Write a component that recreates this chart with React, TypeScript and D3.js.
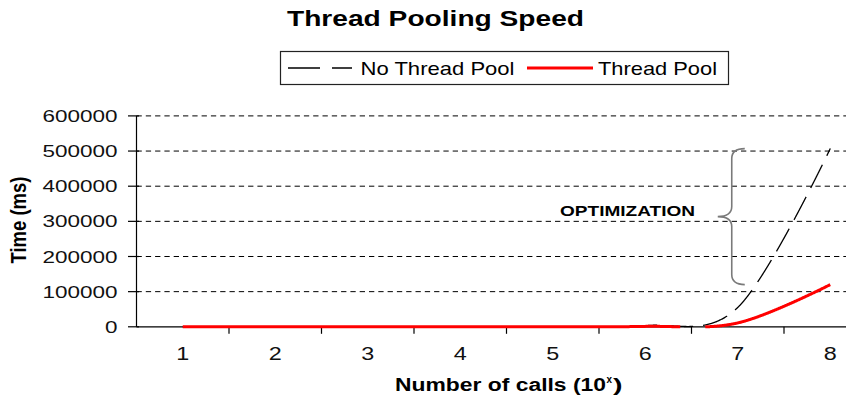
import React, { useLayoutEffect, useRef, useState } from "react";
import * as d3 from "d3";

const categories = ["1", "2", "3", "4", "5", "6", "7", "8"];
const noThreadPool = [0, 0, 3, 30, 300, 3000, 55000, 507000];
const threadPool = [0, 0, 1, 12, 120, 1200, 11000, 120000];
const yTickValues = [0, 100000, 200000, 300000, 400000, 500000, 600000];
const seriesNames = ["No Thread Pool", "Thread Pool"];
const titleText = "Thread Pooling Speed";
const xTitle = "Number of calls (10";
const yTitle = "Time (ms)";
const annotation = "OPTIMIZATION";

const W = 846;
const H = 404;
const FONT = "'Liberation Sans', Arial, Helvetica, sans-serif";

const x = d3.scaleBand<string>().domain(categories).range([136.5, 136.5 + 8 * 92.5]).padding(0);
const y = d3.scaleLinear().domain([0, 600000]).range([326.8, 115.9]);
const cx = (c: string) => (x(c) as number) + x.bandwidth() / 2;

function ClippedCurve({ values, stroke, width, dash }: { values: number[]; stroke: string; width: number; dash?: string }) {
  const ref = useRef<SVGPathElement>(null);
  const line = d3
    .line<number>()
    .x((_, i) => cx(categories[i]))
    .y((v) => y(v))
    .curve(d3.curveCardinal.tension(0));
  const full = line(values) || "";
  const [pd, setPd] = useState<string | null>(null);
  useLayoutEffect(() => {
    const p = ref.current;
    if (!p) return;
    const L = p.getTotalLength();
    const pts: [number, number][] = [];
    for (let s = 0; s <= L; s += 0.5) {
      const q = p.getPointAtLength(s);
      pts.push([q.x, q.y]);
    }
    const q = p.getPointAtLength(L);
    pts.push([q.x, q.y]);
    const y0 = y(0);
    const lin = d3.line<[number, number]>().defined((d) => d[1] <= y0 + 0.05);
    setPd(lin(pts));
  }, [full]);
  return (
    <g>
      <path ref={ref} d={full} fill="none" stroke="none" />
      <path d={pd ?? full} fill="none" stroke={stroke} strokeWidth={width} strokeDasharray={dash} strokeLinejoin="round" />
    </g>
  );
}

export default function App() {
  const y0 = y(0);
  const xLeft = 136.5;
  const boundaries = categories.map((_, i) => xLeft + i * x.bandwidth()).slice(1);
  const last = categories.length - 1;
  const bTop = y(noThreadPool[last]);
  const bBot = y(threadPool[last]);
  const bMid = (bTop + bBot) / 2;
  const c7 = cx(categories[6]);
  const xe = c7 + 7;
  const xs = c7 - 6;
  const xt = c7 - 20;
  const r = 10;
  const brace = `M${xe},${bTop} Q${xs},${bTop} ${xs},${bTop + r} L${xs},${bMid - r} Q${xs},${bMid} ${xt},${bMid} Q${xs},${bMid} ${xs},${bMid + r} L${xs},${bBot - r} Q${xs},${bBot} ${xe},${bBot}`;

  return (
    <svg width={W} height={H} style={{ position: "absolute", left: 0, top: 0, background: "#fff" }} fontFamily={FONT}>
      <rect x={0} y={0} width={W} height={H} fill="#fff" />
      {/* title */}
      <text x={287} y={26} fontSize={22} fontWeight="bold" textLength={297} lengthAdjust="spacingAndGlyphs">
        {titleText}
      </text>
      {/* legend */}
      <rect x={280.5} y={51.5} width={448} height={33} fill="#fff" stroke="#222" strokeWidth={1.2} />
      <line x1={288} x2={352} y1={68} y2={68} stroke="#000" strokeWidth={1.3} strokeDasharray="32,12" />
      <text x={360.5} y={74.5} fontSize={19} textLength={154} lengthAdjust="spacingAndGlyphs">
        {seriesNames[0]}
      </text>
      <line x1={527} x2={593} y1={68} y2={68} stroke="#ff0000" strokeWidth={3} />
      <text x={598} y={74.5} fontSize={19} textLength={119} lengthAdjust="spacingAndGlyphs">
        {seriesNames[1]}
      </text>
      {/* gridlines */}
      {yTickValues
        .filter((v) => v > 0)
        .map((v) => (
          <line key={v} x1={xLeft} x2={W} y1={y(v)} y2={y(v)} stroke="#000" strokeWidth={1} strokeDasharray="5.3,4" />
        ))}
      {/* y axis */}
      <line x1={xLeft} x2={xLeft} y1={y(600000)} y2={y0} stroke="#000" strokeWidth={1.2} />
      {yTickValues.map((v) => (
        <line key={"t" + v} x1={128} x2={139} y1={y(v)} y2={y(v)} stroke="#000" strokeWidth={1.2} />
      ))}
      {yTickValues.map((v) => {
        const s = String(v);
        const len = s.length * 12.5;
        return (
          <text key={"l" + v} x={117.5 - len} y={y(v) + 6} fontSize={17} fill="#111" textLength={len} lengthAdjust="spacingAndGlyphs">
            {s}
          </text>
        );
      })}
      {/* x axis */}
      <line x1={xLeft} x2={W} y1={y0} y2={y0} stroke="#000" strokeWidth={1.2} />
      {boundaries.map((b) => (
        <line key={"xb" + b} x1={b} x2={b} y1={y0} y2={y0 + 7} stroke="#000" strokeWidth={1.2} />
      ))}
      {categories.map((c) => (
        <text key={"xl" + c} x={cx(c) - 6.5} y={360} fontSize={18} fill="#111" textLength={13} lengthAdjust="spacingAndGlyphs">
          {c}
        </text>
      ))}
      {/* series */}
      <ClippedCurve values={noThreadPool} stroke="#000" width={1.3} dash="26,10" />
      <ClippedCurve values={threadPool} stroke="#ff0000" width={3} />
      {/* annotation */}
      <path d={brace} fill="none" stroke="#7a7a7a" strokeWidth={1.6} />
      <text x={560} y={215.5} fontSize={15} fontWeight="bold" textLength={135} lengthAdjust="spacingAndGlyphs">
        {annotation}
      </text>
      {/* axis titles */}
      <text x={395} y={390.7} fontSize={18} fontWeight="bold" textLength={211} lengthAdjust="spacingAndGlyphs">
        {xTitle}
      </text>
      <text x={606.5} y={383} fontSize={10} fontWeight="bold" textLength={5.5} lengthAdjust="spacingAndGlyphs">
        x
      </text>
      <text x={613} y={390.7} fontSize={18} fontWeight="bold" textLength={9.5} lengthAdjust="spacingAndGlyphs">
        )
      </text>
      <text transform="translate(25.5,220) scale(1.22,1) rotate(-90)" textAnchor="middle" fontSize={18} fontWeight="bold" textLength={87} lengthAdjust="spacingAndGlyphs">
        {yTitle}
      </text>
    </svg>
  );
}
